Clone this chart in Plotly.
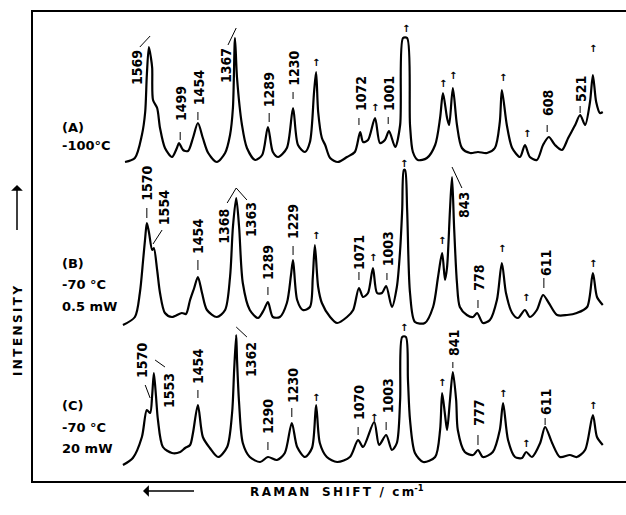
import plotly.graph_objects as go

# ---------------- data (Raman shift in cm-1, relative intensity) ----------------
shift_A = [1635, 1611, 1594, 1586, 1582, 1577, 1572, 1569, 1567, 1557, 1550, 1538, 1521, 1509, 1504,
           1494, 1482, 1470, 1458, 1446, 1433, 1412, 1392, 1380, 1373, 1368, 1363, 1351, 1339, 1319,
           1302, 1288, 1276, 1263, 1242, 1227, 1215, 1198, 1186, 1176, 1171, 1166, 1157, 1149, 1137,
           1118, 1096, 1077, 1064, 1057, 1045, 1028, 1016, 1004, 994, 979, 967, 960, 950, 943, 936,
           924, 902, 882, 870, 863, 853, 848, 839, 829, 817, 797, 778, 756, 737, 725, 720, 708, 695,
           676, 664, 652, 635, 620, 606, 591, 574, 559, 542, 530, 518, 506, 499, 491, 482, 475]
int_A = [0, 4, 27, 50, 87, 115, 104, 94, 62, 54, 34, 14, 5, 14, 19,
         12, 11, 24, 39, 24, 9, 0, 9, 27, 54, 124, 84, 37, 14, 2,
         7, 35, 10, 5, 14, 54, 17, 10, 20, 70, 90, 50, 24, 17, 4,
         0, 5, 10, 30, 20, 22, 44, 19, 22, 31, 15, 37, 124, 124, 37, 10,
         2, 4, 17, 44, 69, 44, 37, 74, 37, 14, 9, 10, 9, 14, 40, 72, 37, 14,
         5, 17, 5, 2, 17, 25, 17, 12, 24, 37, 47, 37, 60, 87, 60, 49, 50]

shift_B = [1640, 1611, 1599, 1591, 1586, 1582, 1577, 1569, 1565, 1557, 1550, 1538, 1521, 1497, 1487,
           1477, 1467, 1458, 1448, 1436, 1412, 1392, 1380, 1373, 1365, 1358, 1349, 1332, 1312, 1298,
           1288, 1276, 1259, 1242, 1232, 1227, 1217, 1203, 1186, 1179, 1174, 1166, 1157, 1137, 1120,
           1096, 1081, 1067, 1057, 1045, 1033, 1023, 1011, 1001, 987, 975, 967, 962, 958, 955, 950,
           943, 931, 907, 887, 875, 865, 858, 853, 846, 841, 836, 829, 822, 805, 790, 780, 766, 749,
           732, 720, 710, 695, 681, 664, 652, 635, 620, 606, 586, 562, 538, 513, 499, 489, 475]
int_B = [-2, 6, 30, 63, 85, 100, 91, 73, 75, 53, 30, 10, 6, 10, 9,
         23, 35, 46, 30, 13, 6, 13, 46, 96, 125, 96, 40, 13, 5, 13,
         21, 6, 6, 20, 48, 63, 23, 13, 16, 46, 78, 36, 20, 6, 0,
         6, 13, 35, 26, 30, 55, 30, 30, 37, 16, 36, 73, 113, 153, 153, 113,
         30, 1, 0, 16, 46, 70, 43, 56, 113, 146, 96, 40, 16, 8, 6, 10, 0, 3,
         23, 60, 30, 10, 5, 13, 6, 13, 28, 20, 8, 8, 10, 16, 50, 26, 18]

shift_C = [1640, 1616, 1594, 1582, 1574, 1569, 1565, 1560, 1555, 1543, 1521, 1501, 1489, 1477, 1470,
           1458, 1446, 1429, 1409, 1387, 1375, 1370, 1365, 1363, 1358, 1349, 1332, 1307, 1288, 1266,
           1247, 1230, 1217, 1198, 1181, 1171, 1162, 1145, 1120, 1089, 1069, 1057, 1030, 1018, 1001,
           987, 975, 967, 962, 953, 948, 943, 931, 911, 882, 870, 865, 858, 853, 846, 839, 831, 827,
           810, 790, 778, 766, 742, 725, 717, 705, 688, 671, 661, 647, 627, 615, 598, 579, 555, 538,
           518, 499, 489, 475]
int_C = [0, 7, 28, 55, 52, 70, 92, 70, 45, 18, 12, 13, 17, 20, 32,
         60, 28, 17, 8, 18, 52, 95, 130, 105, 62, 22, 8, 3, 8, 5,
         12, 42, 18, 8, 17, 60, 22, 8, 3, 8, 25, 18, 43, 20, 30,
         15, 22, 65, 128, 128, 85, 45, 12, 3, 8, 35, 72, 50, 35, 65, 93, 65, 35,
         13, 10, 15, 8, 13, 35, 62, 25, 8, 7, 13, 8, 22, 38, 22, 8, 10, 8,
         15, 50, 28, 20]

trace_conditions = [["(A)", "-100°C"], ["(B)", "-70 °C", "0.5 mW"], ["(C)", "-70 °C", "20 mW"]]

peak_labels_A = ["1569", "1499", "1454", "1367", "1289", "1230", "1072", "1001", "608", "521"]
peak_labels_B = ["1570", "1554", "1454", "1368", "1363", "1289", "1229", "1071", "1003", "843", "778", "611"]
peak_labels_C = ["1570", "1553", "1454", "1362", "1290", "1230", "1070", "1003", "841", "777", "611"]

TS = "\u2009"
x_title = TS.join("RAMAN") + "   " + TS.join("SHIFT") + "  /  " + TS.join("cm") + "<sup>-1</sup>"
y_title = TS.join("INTENSITY")

# ---------------- layout helpers (positions / styles) ----------------
offsets = [319, 158, 16]
X_RANGE = [1858.4, 418.6]
Y_RANGE = [0, 469]

label_pos_A = [(1606, 414), (1499, 377), (1455, 393), (1390, 416), (1285, 391), (1225, 413),
               (1062, 387), (994, 387), (608, 378), (528, 392)]
label_pos_B = [(1582, 298), (1540, 273), (1458, 245), (1395, 255), (1329, 261), (1288, 219),
               (1227, 259), (1067, 229), (996, 232), (812, 276), (776, 203), (613, 218)]
label_pos_C = [(1594, 121), (1528, 90), (1458, 115), (1329, 121), (1288, 65), (1227, 95),
               (1067, 79), (996, 85), (836, 138), (776, 68), (613, 79)]

leader_segments = [
    # trace A
    ((1599, 434), (1574, 445)), ((1501, 349), (1501, 341)), ((1458, 369), (1458, 361)),
    ((1385, 436), (1365, 453)), ((1285, 368), (1285, 359)), ((1227, 389), (1227, 382)),
    ((1067, 363), (1067, 356)), ((996, 364), (996, 357)), ((610, 356), (610, 349)),
    ((530, 375), (530, 368)),
    # trace B
    ((1582, 273), (1582, 263)), ((1545, 251), (1567, 237)), ((1458, 221), (1458, 211)),
    ((1387, 278), (1365, 293)), ((1339, 281), (1365, 293)), ((1288, 194), (1288, 186)),
    ((1227, 235), (1227, 226)), ((1067, 209), (1067, 201)), ((999, 208), (999, 201)),
    ((817, 293), (841, 314)), ((778, 181), (778, 173)), ((618, 203), (618, 193)),
    # trace C
    ((1586, 96), (1574, 83)), ((1538, 114), (1562, 121)), ((1458, 91), (1458, 83)),
    ((1339, 144), (1365, 154)), ((1288, 39), (1288, 31)), ((1230, 73), (1230, 64)),
    ((1069, 54), (1069, 46)), ((1001, 59), (1001, 51)), ((839, 119), (839, 113)),
    ((778, 46), (778, 36)), ((615, 63), (615, 56)),
]

solvent_marks = [
    (1171, 419), (1028, 374), (953, 453), (863, 398), (839, 406), (717, 404), (659, 348), (499, 433),
    (1171, 246), (1033, 224), (958, 318), (865, 241), (720, 233), (661, 184), (499, 218),
    (1171, 84), (1030, 64), (958, 154), (865, 99), (717, 88), (661, 38), (499, 76),
]

cond_y = [[354, 336], [218, 197, 175], [76, 54, 33]]
COND_X = 1793

FONT = "DejaVu Sans Condensed"

fig = go.Figure()

for sx, iy, off in zip([shift_A, shift_B, shift_C], [int_A, int_B, int_C], offsets):
    fig.add_trace(go.Scatter(
        x=sx, y=[v + off for v in iy], mode="lines",
        line=dict(color="black", width=2.2, shape="spline", smoothing=0.8),
        hoverinfo="skip", showlegend=False))

# leader lines / tick dashes for peak labels
lx, ly = [], []
for (a, b) in leader_segments:
    lx += [a[0], b[0], None]
    ly += [a[1], b[1], None]
fig.add_trace(go.Scatter(x=lx, y=ly, mode="lines", line=dict(color="black", width=1),
                         hoverinfo="skip", showlegend=False))

annotations = []
for labels, pos in zip([peak_labels_A, peak_labels_B, peak_labels_C], [label_pos_A, label_pos_B, label_pos_C]):
    for t, (x, y) in zip(labels, pos):
        annotations.append(dict(x=x, y=y, xref="x", yref="y", text=t, showarrow=False,
                                textangle=-90, xanchor="center", yanchor="middle",
                                font=dict(family=FONT, size=14, color="black", weight="bold")))

for (x, y) in solvent_marks:
    annotations.append(dict(x=x, y=y, xref="x", yref="y", text="↑", showarrow=False,
                            xanchor="center", yanchor="middle",
                            font=dict(family="DejaVu Sans", size=10, color="black", weight="bold")))

for conds, ys in zip(trace_conditions, cond_y):
    for t, y in zip(conds, ys):
        annotations.append(dict(x=COND_X, y=y, xref="x", yref="y", text=t, showarrow=False,
                                xanchor="left", yanchor="middle",
                                font=dict(family="DejaVu Sans", size=13, color="black", weight="bold")))

# axis titles with arrows
annotations.append(dict(x=(337 - 33) / 593, y=(481 - 491) / 469, xref="paper", yref="paper",
                        text=x_title, showarrow=False, xanchor="center", yanchor="middle",
                        font=dict(family="DejaVu Sans", size=12, color="black", weight="bold")))
annotations.append(dict(x=(143 - 33) / 593, y=(481 - 491) / 469, xref="paper", yref="paper",
                        text=" ", showarrow=True, ax=54, ay=0, arrowhead=1, arrowsize=1.3,
                        arrowwidth=1.5, arrowcolor="black", standoff=0))
annotations.append(dict(x=(18 - 33) / 593, y=(481 - 331) / 469, xref="paper", yref="paper",
                        text=y_title, showarrow=False, textangle=-90, xanchor="center", yanchor="middle",
                        font=dict(family="DejaVu Sans", size=12, color="black", weight="bold")))
annotations.append(dict(x=(17 - 33) / 593, y=(481 - 185) / 469, xref="paper", yref="paper",
                        text=" ", showarrow=True, ax=0, ay=55, arrowhead=1, arrowsize=1.3,
                        arrowwidth=1.5, arrowcolor="black", standoff=0))

fig.update_layout(
    width=626, height=515,
    margin=dict(l=33, r=0, t=12, b=34),
    paper_bgcolor="white", plot_bgcolor="white",
    annotations=annotations,
    xaxis=dict(range=X_RANGE, showgrid=False, zeroline=False, showticklabels=False, ticks="",
               showline=True, mirror=True, linecolor="black", linewidth=2),
    yaxis=dict(range=Y_RANGE, showgrid=False, zeroline=False, showticklabels=False, ticks="",
               showline=True, mirror=False, linecolor="black", linewidth=2),
)

fig.write_html("out.html")
